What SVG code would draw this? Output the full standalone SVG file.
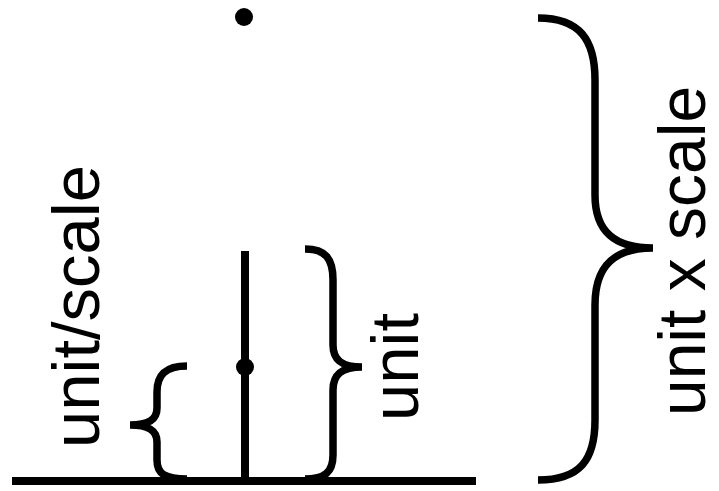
<svg xmlns="http://www.w3.org/2000/svg" width="719" height="491" viewBox="0 0 719 491">
<style>
.ln{stroke:#000;stroke-width:8;fill:none;stroke-linecap:butt}
.br{stroke:#000;stroke-width:7.5;fill:none}
.lbl{font-family:"Liberation Sans",Arial,sans-serif;font-size:67px;fill:#000;text-anchor:middle}
</style>
<rect width="719" height="491" fill="#fff"/>
<g id="connectors">
<line class="ln" x1="12" y1="481" x2="476" y2="481"/>
<line class="ln" x1="245" y1="251" x2="245" y2="481"/>
</g>
<g id="dot-top"><circle cx="244" cy="17" r="9" fill="#000"/></g>
<g id="dot-mid"><circle cx="245" cy="367" r="9" fill="#000"/></g>
<g id="brace-small">
<path class="br" d="M187,366 C165,366 157,375 157,392 L157,408 C157,420 148,425 130,425 C148,425 157,430 157,442 L157,460 C157,474 165,479 187,479"/>
</g>
<g id="brace-unit">
<path class="br" d="M305,249 C325,249 333,258 333,280 L333,345 C333,360 342,367 362,367 C342,367 333,374 333,390 L333,455 C333,472 325,479 305,479"/>
</g>
<g id="brace-big">
<path class="br" d="M538,18 C580,18 595,40 595,80 L595,195 C595,232 615,248 653,248 C615,248 595,265 595,305 L595,420 C595,460 580,480 538,480"/>
</g>
<g id="label-unit-scale"><text class="lbl" transform="translate(99,306.5) rotate(-90)">unit/scale</text></g>
<g id="label-unit"><text class="lbl" transform="translate(418,367) rotate(-90)">unit</text></g>
<g id="label-unit-x-scale"><text class="lbl" style="font-size:66px" transform="translate(705,251) rotate(-90)">unit x scale</text></g>
</svg>
